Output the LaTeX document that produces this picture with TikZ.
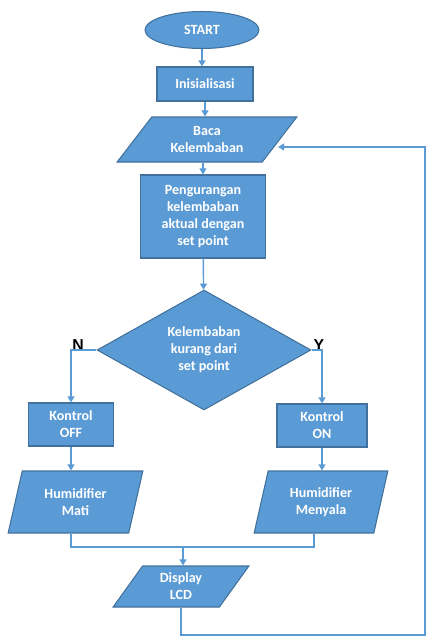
\documentclass[tikz,border=0pt]{standalone}
\usepackage{fontspec}
\setmainfont{Carlito}
\newfontfamily\yesnofont{Liberation Sans}
\usetikzlibrary{shapes.geometric,arrows.meta}
\definecolor{boxblue}{HTML}{5B9BD5}
\definecolor{boxedge}{HTML}{41719C}
\definecolor{flowline}{HTML}{5B9BD5}
\tikzset{
  box/.style={draw=boxedge, line width=0.6pt, fill=boxblue, text=white,
    font=\bfseries\fontsize{8}{9.6}\selectfont, align=center, inner sep=1pt},
  iobox/.style={box, trapezium, trapezium stretches=true},
  link/.style={draw=flowline, line width=0.8pt},
  flow/.style={link, -{Triangle[length=3.5pt,width=4pt]}},
  yesno/.style={font=\yesnofont\bfseries\fontsize{9}{9}\selectfont}
}
\begin{document}
\begin{tikzpicture}[x=0.02cm,y=-0.02cm]
%\node {\includegraphics{flowchart.png}};
\useasboundingbox (0,0) rectangle (441,637);
\node[box, ellipse, minimum width=2.28cm, minimum height=0.74cm] (start) at (202,30) {START};
\node[box, minimum width=1.92cm, minimum height=0.68cm] (init) at (205,84) {Inisialisasi};
\node[iobox, trapezium left angle=51, trapezium right angle=129, minimum width=3.6cm, minimum height=0.9cm] (baca) at (207,139.5) {Baca\\Kelembaban};
\node[box, minimum width=2.5cm, minimum height=1.66cm] (kurang) at (203,216.5) {Pengurangan\\kelembaban\\aktual dengan\\set point};
\node[box, diamond, minimum width=4.28cm, minimum height=2.4cm, inner sep=0pt] (cek) at (204,350) {Kelembaban\\kurang dari\\set point};
\node[box, minimum width=1.7cm, minimum height=0.86cm] (off) at (71,424.5) {Kontrol\\OFF};
\node[box, minimum width=1.8cm, minimum height=0.86cm] (on) at (322,425.5) {Kontrol\\ON};
\node[iobox, trapezium left angle=74, trapezium right angle=106, minimum width=2.7cm, minimum height=1.24cm] (mati) at (75.5,502) {Humidifier\\Mati};
\node[iobox, trapezium left angle=75, trapezium right angle=105, minimum width=2.68cm, minimum height=1.24cm] (nyala) at (321,502) {Humidifier\\Menyala};
\node[iobox, trapezium left angle=60, trapezium right angle=120, minimum width=2.72cm, minimum height=0.82cm] (lcd) at (181,586.5) {Display\\LCD};
\node[yesno] (no) at (78,345) {N};
\node[yesno] (yes) at (319,345) {Y};
\coordinate (merge) at (183,547);
\coordinate (loopcorner) at (425,635);
\coordinate (loopin) at (278,147);
\draw[flow] (start) -- (start |- init.north);
\draw[flow] (init) -- (init |- baca.north);
\draw[flow] (kurang |- baca.south) -- (kurang);
\draw[flow] (kurang) -- (cek);
\draw[flow] (cek.west) -| (off.north);
\draw[flow] (cek.east) -| (on.north);
\draw[flow] (off) -- (off |- mati.north);
\draw[flow] (on) -- (on |- nyala.north);
\draw[link] (off |- mati.south) |- (merge);
\draw[link] (nyala.bottom side) |- (merge);
\draw[flow] (merge) -- (merge |- lcd.north);
\draw[flow] (lcd.south) |- (loopcorner) |- (loopin);
\end{tikzpicture}
\end{document}
